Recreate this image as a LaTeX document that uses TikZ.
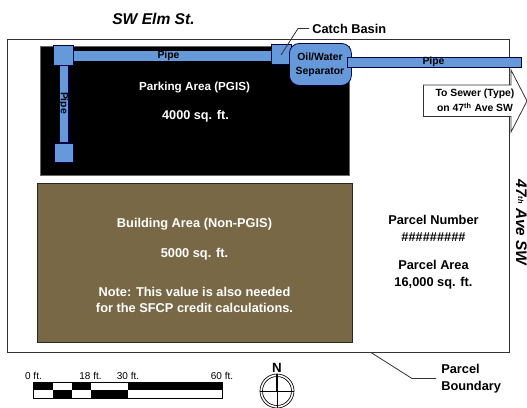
\documentclass[tikz,border=0pt]{standalone}
\usepackage{fontspec}
\setmainfont{Liberation Sans}
\newcommand{\fs}[1]{\fontsize{#1}{#1}\selectfont}
\tikzset{
  x=0.75pt,y=-0.75pt,
  lbl/.style={font=\fs{9.6}\bfseries,align=center,inner sep=0pt,text=black},
  wlbl/.style={lbl,text=white},
  smalll/.style={lbl,font=\fs{7.8}\bfseries},
  bluebox/.style={draw=black!75!blue,fill=pipeblue,line width=0.6pt},
  leader/.style={draw=black!80,line width=0.6pt},
  scalet/.style={font=\fs{7.5},inner sep=0pt},
}
\definecolor{pipeblue}{HTML}{6699D9}
\definecolor{brownarea}{HTML}{786846}
\begin{document}
\begin{tikzpicture}
\useasboundingbox (0,0) rectangle (527,407);
\node[font=\fs{11.7}\bfseries\itshape,inner sep=0pt] (street) at (153.5,18.5) {SW Elm St.};
\node[draw=black!80,line width=0.7pt,minimum width=501.5*0.75pt,minimum height=313.5*0.75pt,inner sep=0pt,anchor=north west] (parcel) at (7,38.5) {};
\node[fill=black,draw=black!60,line width=0.4pt,minimum width=309*0.75pt,minimum height=129*0.75pt,inner sep=0pt,anchor=north west] (parking) at (40,46) {};
\node[fill=brownarea,draw=black!85,line width=0.6pt,minimum width=315*0.75pt,minimum height=159*0.75pt,inner sep=0pt,anchor=north west] (building) at (37,183) {};
% pipes
\node[bluebox,minimum width=199*0.75pt,minimum height=10*0.75pt,inner sep=0pt,anchor=north west,draw=none] (pipeA) at (73,51) {};
\node[bluebox,minimum width=9*0.75pt,minimum height=78*0.75pt,inner sep=0pt,anchor=north west] (pipeB) at (59,64) {};
\node[bluebox,minimum width=20*0.75pt,minimum height=20*0.75pt,inner sep=0pt,anchor=north west] (basinA) at (53,44.5) {};
\node[bluebox,minimum width=19*0.75pt,minimum height=19*0.75pt,inner sep=0pt,anchor=north west] (basinB) at (53.5,142.5) {};
\node[bluebox,minimum width=20*0.75pt,minimum height=20*0.75pt,inner sep=0pt,anchor=north west] (catch) at (271,44) {};
\node[bluebox,rounded corners=7.5pt,minimum width=62*0.75pt,minimum height=42*0.75pt,inner sep=0pt,anchor=north west] (sep) at (289,43) {};
\node[bluebox,minimum width=174*0.75pt,minimum height=10*0.75pt,inner sep=0pt,anchor=north west] (pipeC) at (347,56.5) {};
\node[smalll] at (168.5,55.5) {Pipe};
\node[smalll,rotate=-90] at (63.5,103) {Pipe};
\node[smalll] at (433.5,61.5) {Pipe};
\node[smalll] (septext) at (320,64.5) {Oil/Water\\[2.5pt]Separator};
% arrow
\draw[fill=white,draw=black!80,line width=0.6pt] (423.5,85) -- (511,85) -- (511,70) -- (527,101) -- (511,132) -- (511,116.5) -- (423.5,116.5) -- cycle;
\node[smalll] at (475,100.5) {To Sewer (Type)\\[2pt]on 47\textsuperscript{th} Ave SW};
% labels
\node[wlbl,font=\fs{8.75}\bfseries] at (194.5,87.5) {Parking Area (PGIS)};
\node[wlbl,font=\fs{9.5}\bfseries] at (195.5,116.5) {4000 sq. ft.};
\node[wlbl] at (194.5,224) {Building Area (Non-PGIS)};
\node[wlbl] at (194.5,254) {5000 sq. ft.};
\node[wlbl] at (194.5,300) {Note: This value is also needed\\[3pt]for the SFCP credit calculations.};
\node[lbl] at (433.5,228) {Parcel Number\\[3pt]\#\#\#\#\#\#\#\#\#};
\node[lbl] at (433.5,275) {Parcel Area\\[3pt]16,000 sq. ft.};
\node[lbl,font=\fs{11.5}\bfseries\itshape,rotate=-90,anchor=base] (ave) at (516,222.5) {47\raisebox{1.5pt}{\fs{5.5}th} Ave SW};
\node[lbl,anchor=west] (cbl) at (312,28.5) {Catch Basin};
\node[lbl,align=left,anchor=west] (pbl) at (441,379) {Parcel\\[3pt]Boundary};
\coordinate (cbend) at (281,55);
\coordinate (pbend) at (371,352.5);
\draw[leader] (cbend) -- (298,28.5) -- (309,28.5);
\draw[leader] (pbend) -- (412,378.5) -- (436,378.5);
% scale
\foreach \a/\b/\t/\u in {33.5/53/black/white,53/72/white/black,72/91/black/white,91/128/white/black,128/222.5/black/white}{
  \fill[\t] (\a,382) rectangle (\b,390);
  \fill[\u] (\a,390) rectangle (\b,398);
}
\draw[black,line width=0.5pt] (33.5,382) rectangle (222.5,398);
\node[scalet] at (33.5,375.5) {0 ft.};
\node[scalet] at (90.5,375.5) {18 ft.};
\node[scalet] at (128,375.5) {30 ft.};
\node[scalet] at (222,375.5) {60 ft.};
% north
\draw[black,line width=0.5pt] (277,391) circle[radius=17];
\draw[black,line width=0.5pt] (277,391) circle[radius=14.5];
\draw[black,line width=0.5pt] (260,391) -- (294,391) (277,391) -- (277,408);
\draw[black,line width=1.6pt] (277,374) -- (277,391);
\node[lbl,font=\fs{10}\bfseries] (north) at (277,368) {N};
\end{tikzpicture}
\end{document}
